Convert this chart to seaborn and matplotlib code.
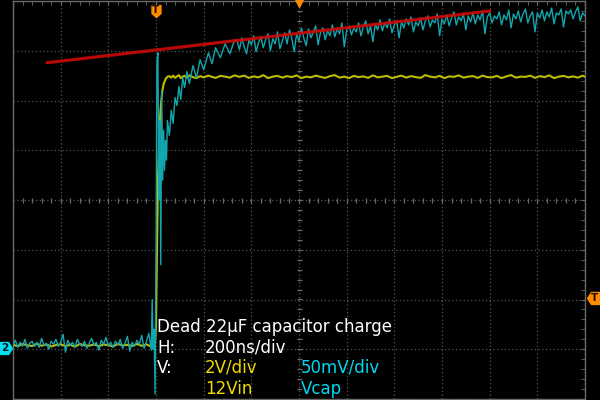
import numpy as np
import pandas as pd
import matplotlib
matplotlib.use('Agg')
import matplotlib.pyplot as plt
import matplotlib.transforms as mtransforms
from matplotlib.path import Path
from matplotlib.ticker import MultipleLocator
import seaborn as sns

#%% data (trigger at t = 0)
# ch1 = 12Vin in V, sampled every 20 ns (finer round the edge)
t_in = [-600, -580, -560, -540, -520, -500, -480, -460, -440, -420,
        -400, -380, -360, -340, -320, -300, -280, -260, -240, -220,
        -200, -180, -160, -140, -120, -100, -80, -60, -40, -20,
        -16, -12, -8, -4, 0, 4, 8, 12, 16, 20, 24, 28, 32, 36, 40, 44, 48,
        56, 64, 72, 80, 88, 96, 104, 112, 120, 130, 140, 155, 170, 185,
        200, 220, 235, 250, 270, 290, 310, 330,
        350, 370, 390, 410, 430, 450, 470, 490, 510, 530,
        550, 570, 590, 610, 630, 650, 670, 690, 710, 730,
        750, 770, 790, 810, 830, 850, 870, 890, 910, 930,
        950, 970, 990, 1010, 1030, 1050, 1070, 1090, 1110, 1130,
        1150, 1170, 1190, 1210, 1230, 1250, 1270, 1290, 1310, 1330,
        1350, 1370, 1390, 1410, 1430, 1450, 1470, 1490, 1510, 1530,
        1550, 1570, 1590, 1610, 1630, 1650, 1670, 1690, 1710, 1730,
        1750, 1770, 1790, 1800]

vin_v = [0.02, -0.04, 0.05, 0.0, -0.03, 0.06, -0.02, 0.03, -0.05, 0.01,
         0.04, -0.03, 0.02, -0.06, 0.05, 0.0, -0.02, 0.04, -0.04, 0.03,
         0.01, -0.05, 0.06, -0.01, 0.02, -0.03, 0.05, -0.02, 0.04, -0.06,
         0.05, -0.04, 0.06, 0.1, 0.8, 3.5, 6.5, 8.0, 9.0, 9.6, 10.0, 10.3, 10.5, 10.6, 10.7, 10.75, 10.8,
         10.82, 10.76, 10.84, 10.75, 10.81, 10.86, 10.74, 10.8, 10.83, 10.76, 10.85, 10.78, 10.74, 10.82,
         10.77, 10.84, 10.79, 10.75, 10.83, 10.8, 10.76, 10.85,
         10.79, 10.84, 10.75, 10.81, 10.77, 10.86, 10.74, 10.8, 10.83, 10.76,
         10.82, 10.78, 10.85, 10.74, 10.8, 10.77, 10.84, 10.79, 10.75, 10.82,
         10.86, 10.76, 10.8, 10.74, 10.83, 10.78, 10.81, 10.75, 10.85, 10.77,
         10.8, 10.83, 10.74, 10.79, 10.84, 10.76, 10.82, 10.78, 10.75, 10.86,
         10.8, 10.77, 10.83, 10.74, 10.81, 10.79, 10.85, 10.76, 10.8, 10.82,
         10.75, 10.84, 10.78, 10.77, 10.83, 10.74, 10.81, 10.86, 10.76, 10.8,
         10.79, 10.84, 10.75, 10.82, 10.78, 10.85, 10.74, 10.8, 10.83, 10.77,
         10.81, 10.76, 10.84, 10.79]

# ch2 = Vcap in mV, sampled every 10 ns (finer round the edge)
t_cap = [-600, -590, -580, -570, -560, -550, -540, -530, -520, -510,
         -500, -490, -480, -470, -460, -450, -440, -430, -420, -410,
         -400, -390, -380, -370, -360, -350, -340, -330, -320, -310,
         -300, -290, -280, -270, -260, -250, -240, -230, -220, -210,
         -200, -190, -180, -170, -160, -150, -140, -130, -120, -110,
         -100, -90, -80, -70, -60, -50, -40, -30, -20,
         -16, -12, -8, -4, 0, 4, 8, 12, 16, 20, 24, 28, 32, 36, 40, 44, 48,
         56, 64, 72, 80, 88, 96, 104, 112, 120, 130, 140, 155, 170, 185,
         200, 220, 235, 250, 270, 290, 310, 330,
         340, 350, 360, 370, 380, 390, 400, 410, 420, 430,
         440, 450, 460, 470, 480, 490, 500, 510, 520, 530,
         540, 550, 560, 570, 580, 590, 600, 610, 620, 630,
         640, 650, 660, 670, 680, 690, 700, 710, 720, 730,
         740, 750, 760, 770, 780, 790, 800, 810, 820, 830,
         840, 850, 860, 870, 880, 890, 900, 910, 920, 930,
         940, 950, 960, 970, 980, 990, 1000, 1010, 1020, 1030,
         1040, 1050, 1060, 1070, 1080, 1090, 1100, 1110, 1120, 1130,
         1140, 1150, 1160, 1170, 1180, 1190, 1200, 1210, 1220, 1230,
         1240, 1250, 1260, 1270, 1280, 1290, 1300, 1310, 1320, 1330,
         1340, 1350, 1360, 1370, 1380, 1390, 1400, 1410, 1420, 1430,
         1440, 1450, 1460, 1470, 1480, 1490, 1500, 1510, 1520, 1530,
         1540, 1550, 1560, 1570, 1580, 1590, 1600, 1610, 1620, 1630,
         1640, 1650, 1660, 1670, 1680, 1690, 1700, 1710, 1720, 1730,
         1740, 1750, 1760, 1770, 1780, 1790, 1800]

vcap_mv = [3, 8, 1, 6, 2, 9, 0, 5, 7, 2,
           6, 1, 10, 3, 5, -1, 7, 4, 9, 2,
           6, 14, -4, 8, 3, 6, 1, 9, 4, 2,
           7, 0, 5, 10, 3, 6, -2, 8, 4, 11,
           2, 6, 1, 7, 3, 9, 0, 5, 12, -3,
           6, 2, 8, 4, 13, 0, 7, 15, -2,
           49, -1, 19, -46, 89, 289, 297, 149, 229, 84, 259, 169, 219, 179, 209, 189, 229,
           214, 239, 226, 252, 244, 263, 250, 272, 262, 278, 266, 284, 272, 290,
           280, 297, 286, 302, 292, 306, 296, 310,
           309, 300, 312, 303, 296, 310, 305, 314, 298, 307,
           313, 302, 310, 316, 299, 311, 306, 318, 301, 309,
           317, 306, 320, 311, 298, 316, 309, 322, 312, 304,
           321, 312, 318, 324, 305, 317, 322, 310, 319, 314,
           325, 313, 321, 316, 327, 303, 320, 324, 315, 322,
           318, 327, 314, 323, 329, 316, 324, 308, 326, 320,
           330, 319, 327, 322, 331, 317, 325, 329, 312, 328,
           322, 331, 325, 333, 318, 328, 324, 332, 320, 329,
           334, 323, 330, 327, 336, 314, 331, 326, 335, 324,
           332, 338, 325, 333, 329, 336, 320, 334, 328, 337,
           326, 335, 330, 339, 316, 333, 337, 327, 334, 331,
           338, 325, 335, 330, 340, 322, 336, 331, 339, 328,
           336, 341, 327, 334, 338, 318, 337, 332, 340, 329,
           338, 333, 342, 326, 337, 335, 341, 323, 339, 336,
           340, 331, 338, 343, 329, 337, 334]

# hand drawn tangent on the Vcap trace
red_t = [-457, 1401]
red_mv = [287, 339]

# scope settings
ch1_scale = 2.0      # V/div
ch2_scale = 50.0     # mV/div
ch1_pos = -2.92      # div
ch2_pos = -2.98      # div
trig_level = 1.9     # V on ch1
t_center = 600       # ns

#%%
ch1 = pd.DataFrame({'t': t_in, 'y': np.array(vin_v) / ch1_scale + ch1_pos})
ch2 = pd.DataFrame({'t': t_cap, 'y': np.array(vcap_mv) / ch2_scale + ch2_pos})
red = pd.DataFrame({'t': red_t, 'y': np.array(red_mv) / ch2_scale + ch2_pos})

sns.set_style('dark', {'axes.facecolor': 'black', 'figure.facecolor': 'black'})
plt.rcParams['font.family'] = ['DejaVu Sans']

fig = plt.figure(figsize=(6, 4), dpi=100, facecolor='black')
ax = fig.add_axes([13 / 600, 1 / 400, 572 / 600, 398 / 400])
ax.set_facecolor('black')

sns.lineplot(data=ch1, x='t', y='y', color='#bcbc00', lw=1.5, ax=ax,
             estimator=None, sort=False, zorder=3)
sns.lineplot(data=ch2, x='t', y='y', color='#12a6ae', lw=1.0, ax=ax,
             estimator=None, sort=False, zorder=4)
sns.lineplot(data=red, x='t', y='y', color='#cc0a0a', lw=2.3, alpha=0.9,
             ax=ax, zorder=5)

ax.set_xlim(-600, 1800)
ax.set_ylim(-4, 4)
ax.set_xlabel('')
ax.set_ylabel('')

# graticule
gcol = '#6a6a6a'
ax.xaxis.set_major_locator(MultipleLocator(200))
ax.xaxis.set_minor_locator(MultipleLocator(40))
ax.yaxis.set_major_locator(MultipleLocator(1))
ax.yaxis.set_minor_locator(MultipleLocator(0.2))
ax.tick_params(which='both', direction='in', top=True, right=True, length=3,
               color=gcol, labelbottom=False, labelleft=False)
ax.grid(True, which='major', color='#565656', ls=(0, (1, 2)), lw=0.9)
ax.grid(False, which='minor')
for s in ax.spines.values():
    s.set_color(gcol)
    s.set_linewidth(1.0)

xs = np.arange(-600, 1801, 40)
ys = np.arange(-4, 4.01, 0.2)
ax.plot(xs, np.zeros(len(xs)), ls='none', marker='|', ms=3.6, mew=0.9, color=gcol, zorder=2)
ax.plot(np.full(len(ys), t_center), ys, ls='none', marker='_', ms=3.6, mew=0.9, color=gcol, zorder=2)

# markers round the screen
orange = '#ff8a00'
shield = Path([(-0.75, 1), (0.75, 1), (0.75, -0.35), (0, -1), (-0.75, -0.35), (-0.75, 1)])
left_arrow = Path([(-1, 0), (-0.35, 1), (1, 1), (1, -1), (-0.35, -1), (-1, 0)])
right_arrow = Path([(1, 0), (0.35, 1), (-1, 1), (-1, -1), (0.35, -1), (1, 0)])

tx = ax.get_xaxis_transform()
ty = mtransforms.blended_transform_factory(ax.transAxes, ax.transData)

ax.plot([0], [0.975], marker=shield, ms=8.6, color=orange, transform=tx, clip_on=False, zorder=6)
ax.text(0, 0.977, 'T', transform=tx, ha='center', va='center', fontsize=7.5,
        fontweight='bold', color='#1a0a00', zorder=7)
ax.plot([t_center], [0.995], marker='v', ms=6, color=orange, transform=tx, clip_on=False, zorder=6)

trig_div = trig_level / ch1_scale + ch1_pos
ax.plot([1.014], [trig_div], marker=left_arrow, ms=8.6, color=orange, transform=ty, clip_on=False, zorder=6)
ax.text(1.017, trig_div, 'T', transform=ty, ha='center', va='center', fontsize=7.5,
        fontweight='bold', color='#1a0a00', zorder=7)

ax.plot([-0.0122], [ch2_pos], marker=right_arrow, ms=8.6, color='#00e0f0', transform=ty, clip_on=False, zorder=6)
ax.text(-0.015, ch2_pos, '2', transform=ty, ha='center', va='center', fontsize=7.5,
        fontweight='bold', color='#001418', zorder=7)

#%% labels
fs = 12
fig.text(157 / 600, 1 - 332 / 400, 'Dead 22µF capacitor charge', color='white', fontsize=fs, va='baseline')
fig.text(157 / 600, 1 - 353 / 400, 'H:', color='white', fontsize=fs, va='baseline')
fig.text(205 / 600, 1 - 353 / 400, '200ns/div', color='white', fontsize=fs, va='baseline')
fig.text(157 / 600, 1 - 373 / 400, 'V:', color='white', fontsize=fs, va='baseline')
fig.text(205 / 600, 1 - 373 / 400, '2V/div', color='#f0d800', fontsize=fs, va='baseline')
fig.text(301 / 600, 1 - 373 / 400, '50mV/div', color='#00d8f0', fontsize=fs, va='baseline')
fig.text(205 / 600, 1 - 394 / 400, '12Vin', color='#f0d800', fontsize=fs, va='baseline')
fig.text(301 / 600, 1 - 394 / 400, 'Vcap', color='#00d8f0', fontsize=fs, va='baseline')

fig.savefig('out.png', dpi=100, facecolor='black')
